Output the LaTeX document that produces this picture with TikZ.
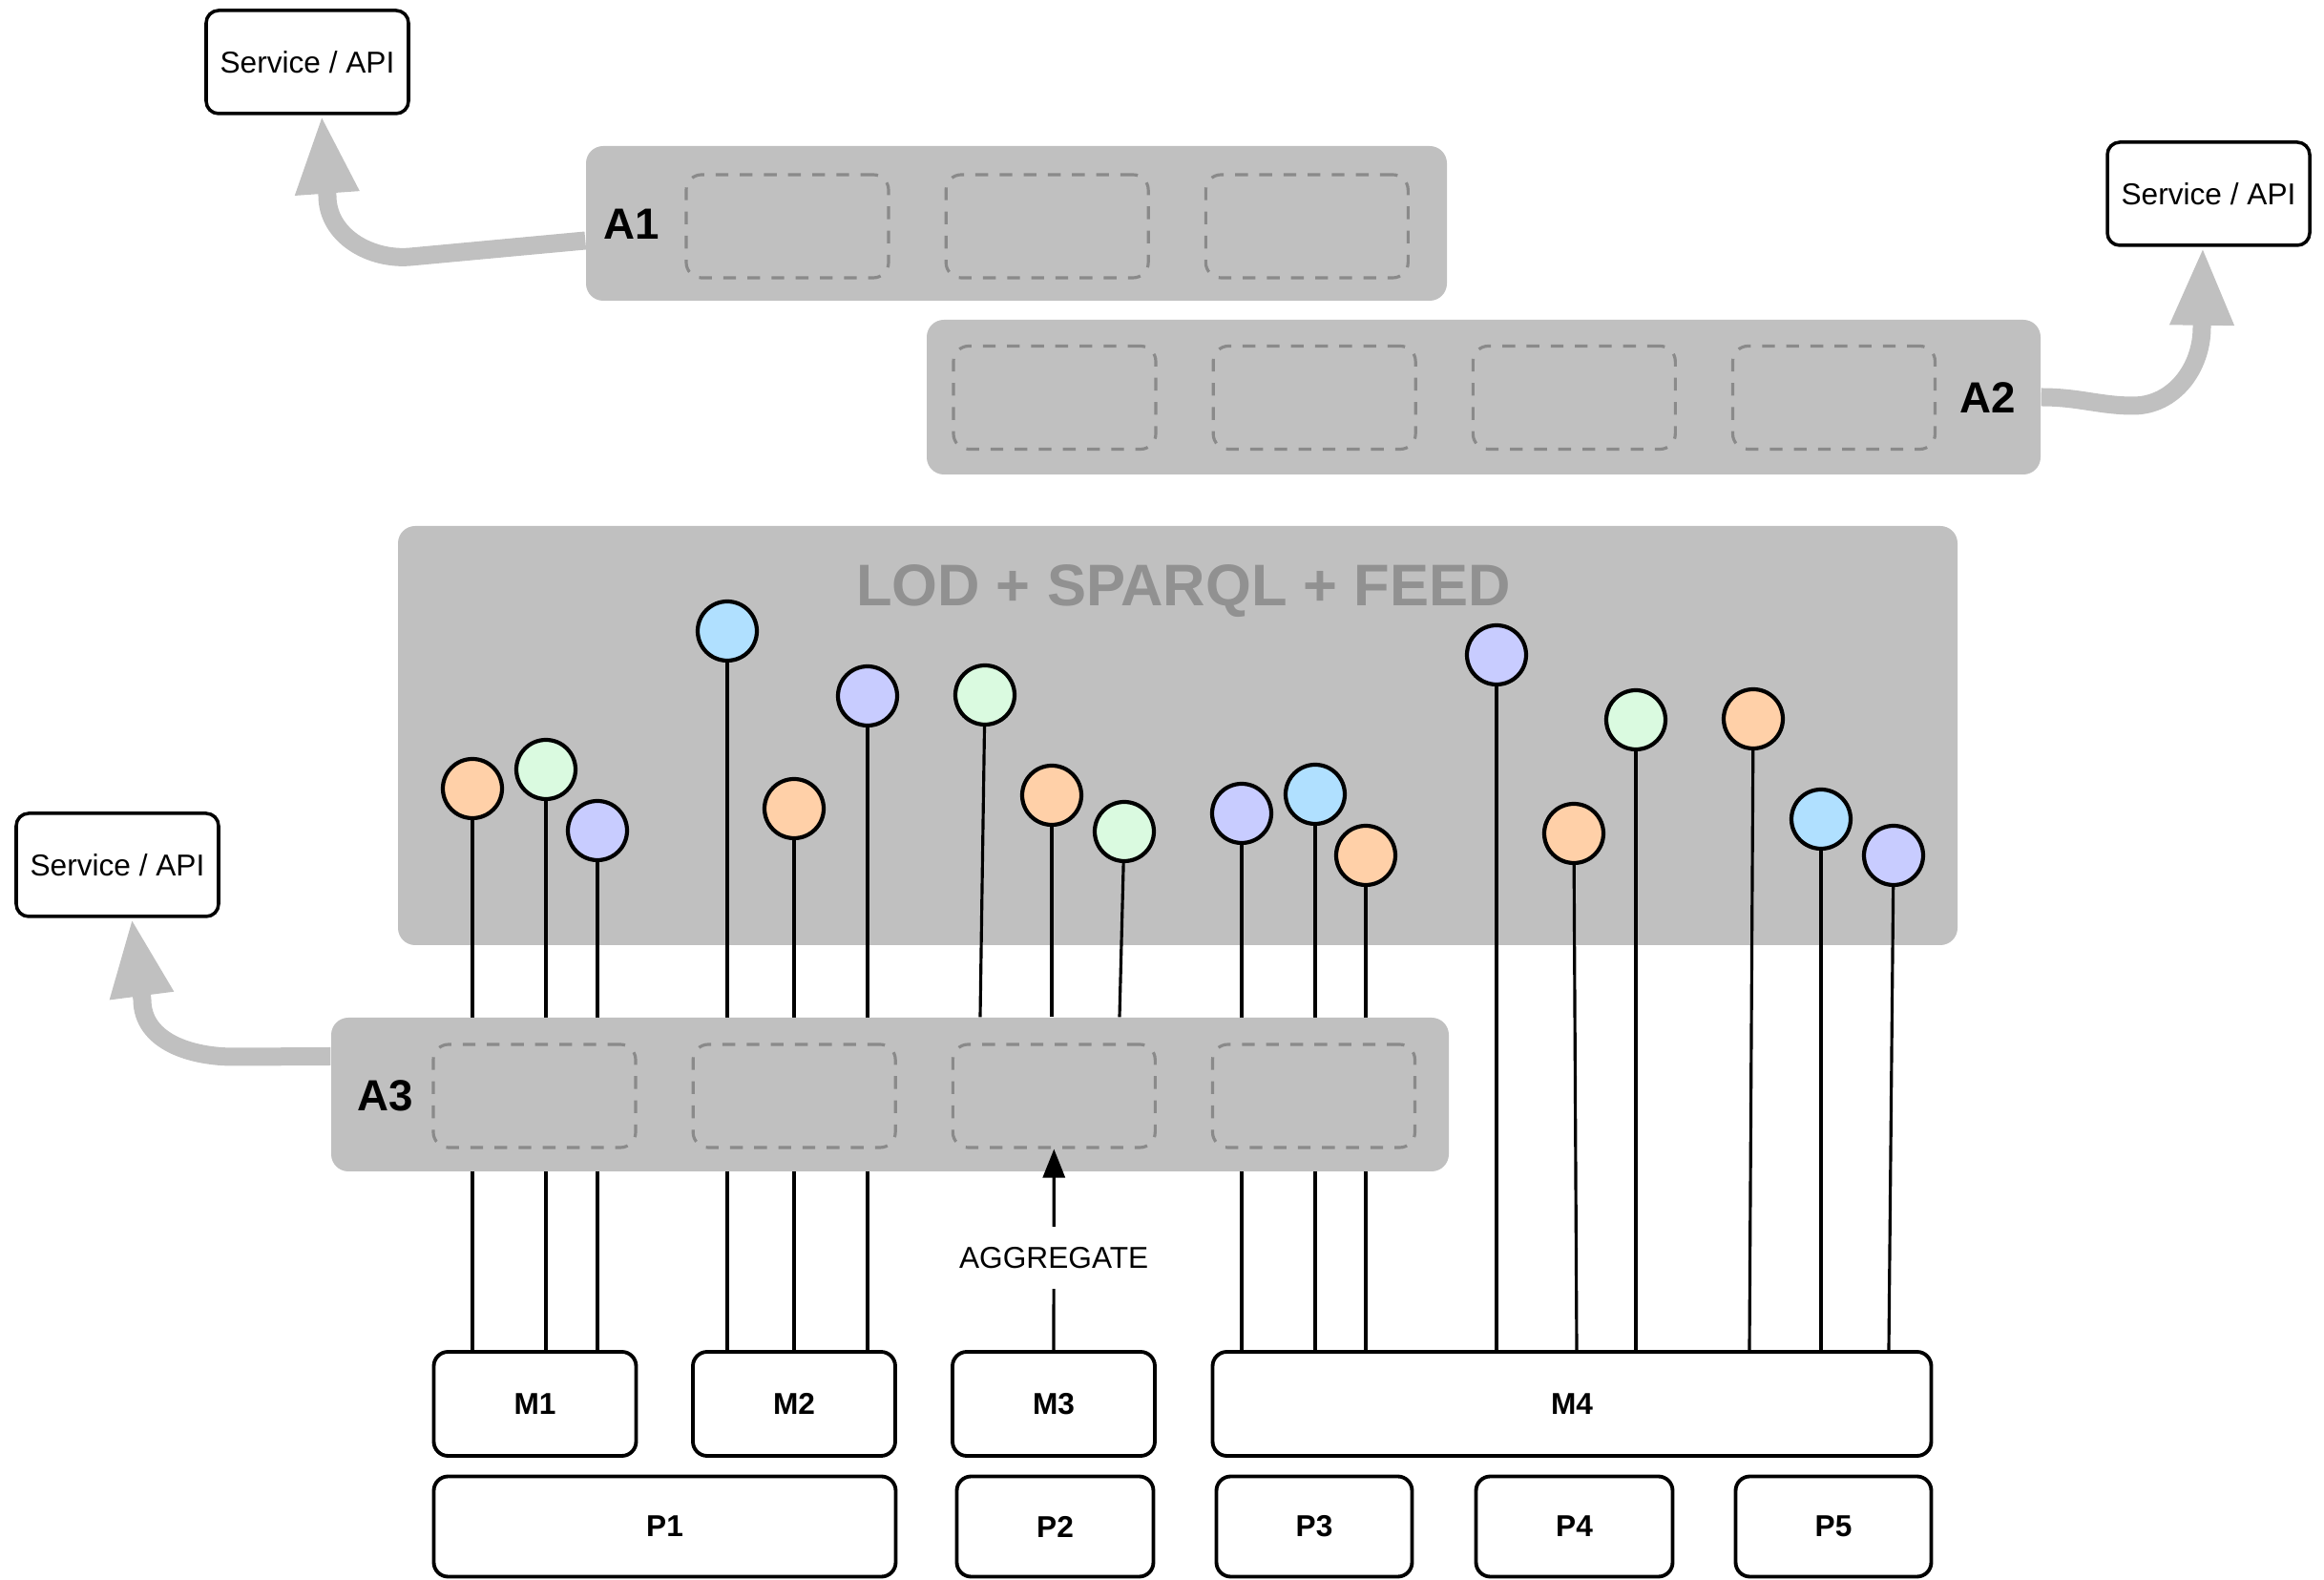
\documentclass[tikz,border=0pt]{standalone}
\usepackage{fontspec}
\setmainfont{Liberation Sans}
\usetikzlibrary{arrows.meta, positioning}

\definecolor{panelgray}{RGB}{192,192,192}
\definecolor{slotgray}{RGB}{138,138,138}
\definecolor{titlegray}{RGB}{145,145,145}
\definecolor{peach}{RGB}{255,208,168}
\definecolor{mint}{RGB}{218,250,224}
\definecolor{lilac}{RGB}{200,204,255}
\definecolor{sky}{RGB}{176,224,255}

\begin{document}
\begin{tikzpicture}[
    panel/.style={fill=panelgray, rounded corners=0.18cm, inner sep=0pt},
    slot/.style={draw=slotgray, line width=0.9pt, dash pattern=on 3.8pt off 3.4pt, rounded corners=0.16cm, minimum width=2.12cm, minimum height=1.08cm},
    svc/.style={draw, line width=1pt, fill=white, rounded corners=0.13cm, minimum width=2.12cm, minimum height=1.08cm, font=\fontsize{9}{11}\selectfont},
    mod/.style={draw, line width=1.1pt, fill=white, rounded corners=0.15cm, minimum height=1.09cm, font=\bfseries\fontsize{9}{11}\selectfont},
    pin/.style={circle, draw, line width=1.2pt, minimum size=0.62cm, inner sep=0pt},
    stem/.style={line width=0.9pt},
    tag/.style={font=\bfseries\fontsize{13}{15}\selectfont},
    bigarrow/.style={draw=panelgray, line width=0.19cm, -{Triangle[length=0.82cm, width=0.62cm]}}]

\useasboundingbox (0,0) rectangle (24.35,-16.55);

% Service endpoints
\node[svc] (svc1) at (3.22,-0.65) {Service / API};
\node[svc] (svc2) at (23.14,-2.03) {Service / API};
\node[svc] (svc3) at (1.23,-9.06) {Service / API};

% A1 with three slots
\node[panel, minimum width=9.02cm, minimum height=1.62cm] (a1) at (10.65,-2.34) {};
\node[tag] (a1lbl) at (6.62,-2.35) {A1};
\node[slot] (a1s1) at (8.25,-2.37) {};
\node[slot, right=0.57cm of a1s1] (a1s2) {};
\node[slot, right=0.57cm of a1s2] (a1s3) {};

% A2 with four slots
\node[panel, minimum width=11.67cm, minimum height=1.62cm] (a2) at (15.545,-4.16) {};
\node[tag] (a2lbl) at (20.83,-4.17) {A2};
\node[slot] (a2s1) at (11.05,-4.165) {};
\node[slot, right=0.57cm of a2s1] (a2s2) {};
\node[slot, right=0.57cm of a2s2] (a2s3) {};
\node[slot, right=0.57cm of a2s3] (a2s4) {};

% Exposure arrows
\draw[bigarrow] ([yshift=-0.18cm]a1.west) -- (4.3,-2.69) to[out=185,in=-90] (3.43,-2.05) -- ([xshift=0.15cm]svc1.south);
\draw[bigarrow] (a2.east) .. controls +(0.4,0) and +(-0.35,0) .. (22.35,-4.25) to[out=0,in=-90] (23.07,-3.43) -- ([xshift=-0.06cm]svc2.south);

% Shared data space
\node[panel, minimum width=16.34cm, minimum height=4.39cm] (lod) at (12.34,-7.705) {};
\node[font=\bfseries\fontsize{17.5}{20}\selectfont, text=titlegray] (lodtitle) at (12.40,-6.19) {LOD + SPARQL + FEED};

% Published items
\node[pin, fill=peach] (pin1) at (4.95,-8.26) {};
\node[pin, fill=mint] (pin2) at (5.72,-8.06) {};
\node[pin, fill=lilac] (pin3) at (6.26,-8.70) {};
\node[pin, fill=sky] (pin4) at (7.62,-6.61) {};
\node[pin, fill=peach] (pin5) at (8.32,-8.47) {};
\node[pin, fill=lilac] (pin6) at (9.09,-7.29) {};
\node[pin, fill=mint] (pin7) at (10.32,-7.28) {};
\node[pin, fill=peach] (pin8) at (11.02,-8.33) {};
\node[pin, fill=mint] (pin9) at (11.78,-8.71) {};
\node[pin, fill=lilac] (pin10) at (13.01,-8.52) {};
\node[pin, fill=sky] (pin11) at (13.78,-8.32) {};
\node[pin, fill=peach] (pin12) at (14.31,-8.96) {};
\node[pin, fill=lilac] (pin13) at (15.68,-6.86) {};
\node[pin, fill=peach] (pin14) at (16.49,-8.73) {};
\node[pin, fill=mint] (pin15) at (17.14,-7.54) {};
\node[pin, fill=peach] (pin16) at (18.37,-7.53) {};
\node[pin, fill=sky] (pin17) at (19.08,-8.58) {};
\node[pin, fill=lilac] (pin18) at (19.84,-8.96) {};

% Modules
\node[mod, minimum width=2.12cm] (m1) at (5.605,-14.705) {M1};
\node[mod, minimum width=2.12cm] (m2) at (8.32,-14.705) {M2};
\node[mod, minimum width=2.12cm] (m3) at (11.04,-14.705) {M3};
\node[mod, minimum width=7.53cm] (m4) at (16.47,-14.705) {M4};

% Providers
\node[mod, minimum width=4.84cm, minimum height=1.05cm] (p1) at (6.965,-15.99) {P1};
\node[mod, minimum width=2.06cm, minimum height=1.05cm] (p2) at (11.055,-15.99) {P2};
\node[mod, minimum width=2.05cm, minimum height=1.05cm] (p3) at (13.77,-15.99) {P3};
\node[mod, minimum width=2.06cm, minimum height=1.05cm] (p4) at (16.495,-15.99) {P4};
\node[mod, minimum width=2.05cm, minimum height=1.05cm] (p5) at (19.21,-15.99) {P5};

% Stems down to the modules
\draw[stem] (pin1) -- (pin1 |- m1.north);
\draw[stem] (pin2) -- (pin2 |- m1.north);
\draw[stem] (pin3) -- (pin3 |- m1.north);
\draw[stem] (pin4) -- (pin4 |- m2.north);
\draw[stem] (pin5) -- (pin5 |- m2.north);
\draw[stem] (pin6) -- (pin6 |- m2.north);
\draw[stem] (pin10) -- (pin10 |- m4.north);
\draw[stem] (pin11) -- (pin11 |- m4.north);
\draw[stem] (pin12) -- (pin12 |- m4.north);
\draw[stem] (pin13) -- (pin13 |- m4.north);
\draw[stem] (pin14) -- ([xshift=0.03cm]pin14 |- m4.north);
\draw[stem] (pin15) -- (pin15 |- m4.north);
\draw[stem] (pin16) -- ([xshift=-0.04cm]pin16 |- m4.north);
\draw[stem] (pin17) -- (pin17 |- m4.north);
\draw[stem] (pin18) -- ([xshift=-0.05cm]pin18 |- m4.north);

% A3 with four slots (covers the stems)
\node[panel, minimum width=11.71cm, minimum height=1.61cm] (a3) at (9.325,-11.465) {};
\node[tag] (a3lbl) at (4.04,-11.48) {A3};
\node[slot] (a3s1) at (5.60,-11.48) {};
\node[slot, right=0.57cm of a3s1] (a3s2) {};
\node[slot, right=0.57cm of a3s2] (a3s3) {};
\node[slot, right=0.57cm of a3s3] (a3s4) {};

% Stems from A3
\draw[stem] (pin7) -- ([xshift=-0.05cm]pin7 |- a3.north);
\draw[stem] (pin8) -- (pin8 |- a3.north);
\draw[stem] (pin9) -- ([xshift=-0.05cm]pin9 |- a3.north);

\draw[bigarrow] ([yshift=0.40cm]a3.west) -- (2.45,-11.07) to[out=180,in=-90] (1.49,-10.47) -- ([xshift=0.15cm]svc3.south);

% Aggregation
\draw[-{Triangle[length=0.3cm, width=0.23cm]}, line width=0.9pt] (m3.north) -- node[pos=0.46, fill=white, inner ysep=6pt, font=\fontsize{9}{10}\selectfont] (agglbl) {AGGREGATE} (a3s3.south);

\end{tikzpicture}
\end{document}
